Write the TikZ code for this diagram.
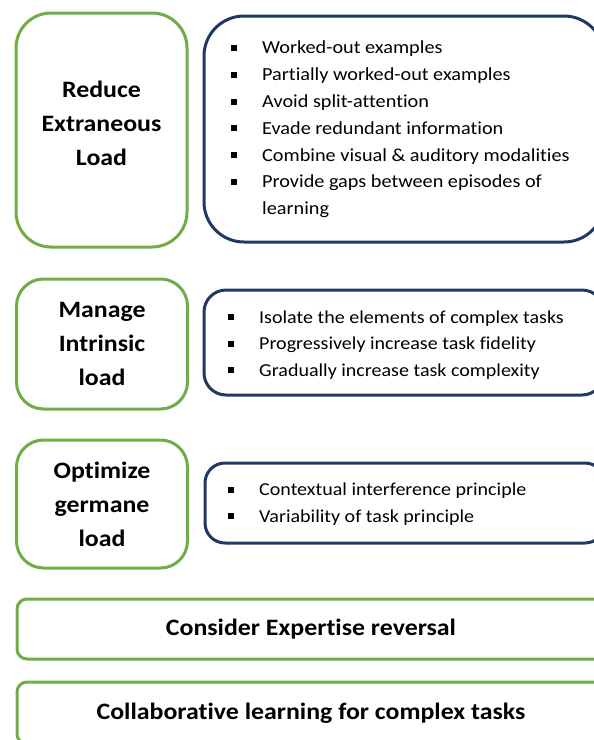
\documentclass[tikz,border=0pt]{standalone}
\usepackage{fontspec}
\setmainfont{Carlito}[Ligatures=CommonOff,FakeStretch=1.1]
\usetikzlibrary{positioning}
\definecolor{leafgreen}{HTML}{70AD47}
\definecolor{navyblue}{HTML}{203864}
\newcommand{\sqitem}[1]{\makebox[31pt][l]{\rule[3pt]{6pt}{6pt}}#1}

\begin{document}
\begin{tikzpicture}[x=1pt,y=-1pt]
    \useasboundingbox (0,0) rectangle (594,740);

    \tikzset{
        loadbox/.style={draw=leafgreen,line width=3pt,minimum width=171pt,align=center,
            font=\fontsize{23.5}{34}\selectfont\bfseries},
        tipbox/.style={draw=navyblue,line width=3pt,minimum width=400pt},
        tiplist/.style={anchor=west,align=left,inner sep=0pt,
            font=\fontsize{18.4}{26.8}\selectfont},
        widebox/.style={draw=leafgreen,line width=3pt,minimum width=588pt,rounded corners=10pt,
            font=\fontsize{23.5}{26}\selectfont\bfseries}
    }

    % left column
    \node[loadbox,rounded corners=35pt,minimum height=234pt] (reduce) at (101.5,130) {};
    \node[align=center,font=\fontsize{23.5}{34}\selectfont\bfseries] (reducetext) at (101.5,123)
        {Reduce\\Extraneous\\Load};
    \node[loadbox,rounded corners=27pt,minimum height=130pt] (manage) at (102,344)
        {Manage\\Intrinsic\\load};
    \node[loadbox,rounded corners=27pt,minimum height=128pt] (optimize) at (102,504)
        {Optimize\\germane\\load};

    % right column
    \node[tipbox,rounded corners=40pt,minimum height=226pt] (reducetips) at (404,129) {};
    \node[tiplist] (reducelist) at (231,129.5) {%
        \sqitem{Worked-out examples}\\
        \sqitem{Partially worked-out examples}\\
        \sqitem{Avoid split-attention}\\
        \sqitem{Evade redundant information}\\
        \sqitem{Combine visual \& auditory modalities}\\
        \sqitem{Provide gaps between episodes of}\\
        \hspace*{31pt}learning};

    \node[tipbox,rounded corners=22pt,minimum height=105pt] (managetips) at (404,342.5) {};
    \node[tiplist,font=\fontsize{18.2}{26.5}\selectfont] (managelist) at (228,345) {%
        \sqitem{Isolate the elements of complex tasks}\\
        \sqitem{Progressively increase task fidelity}\\
        \sqitem{Gradually increase task complexity}};

    \node[tipbox,rounded corners=20pt,minimum height=80pt] (optimizetips) at (405,503) {};
    \node[tiplist,font=\fontsize{18.2}{26.5}\selectfont] (optimizelist) at (228,504) {%
        \sqitem{Contextual interference principle}\\
        \sqitem{Variability of task principle}};

    % bottom rows
    \node[widebox,minimum height=60pt] (expertise) at (311,629) {Consider Expertise reversal};
    \node[widebox,minimum height=62pt] (collab) at (311,713) {Collaborative learning for complex tasks};
\end{tikzpicture}
\end{document}
